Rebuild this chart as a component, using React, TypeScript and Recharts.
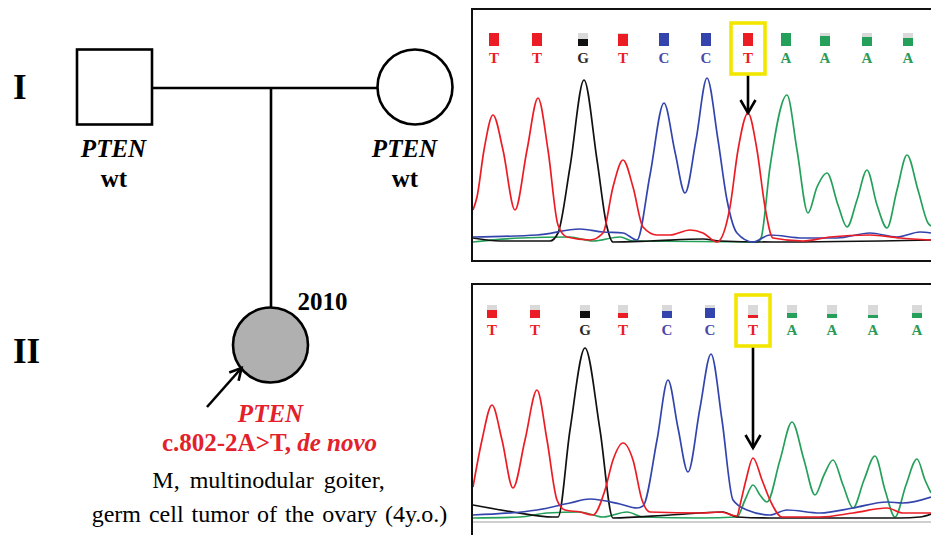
import React from 'react';
import {
  ComposedChart,
  ScatterChart,
  Scatter,
  Line,
  XAxis,
  YAxis,
  ReferenceLine,
} from 'recharts';

// ---------------- data: pedigree ----------------
const generationLabels = ['I', 'II'];
const generationY = [87, 351];

const individualIds = ['I-1', 'I-2', 'II-1'];
const individualX = [114.5, 415, 270.5];
const individualY = [87, 87, 345];
const individualSex = ['M', 'F', 'F'];
const individualAffected = [false, false, true];

const parentGenotype = ['PTEN', 'wt'];
const probandYear = '2010';
const probandGene = 'PTEN';
const probandVariant = 'c.802-2A>T, ';
const probandOrigin = 'de novo';
const probandPhenotype = ['M, multinodular goiter,', 'germ cell tumor of the ovary (4y.o.)'];

// ---------------- data: chromatograms ----------------
const baseCalls = ['T', 'T', 'G', 'T', 'C', 'C', 'T', 'A', 'A', 'A', 'A'];
const mutationIndex = 6;

const topCallPos = [22, 65, 111, 151, 192, 234, 276, 314, 353, 395, 436];
const topQuality = [1, 1, 0.5, 0.9, 1, 1, 1, 1, 0.75, 0.7, 0.6];
const bottomCallPos = [20, 63, 113, 151, 195, 238, 281, 320, 360, 401, 445];
const bottomQuality = [0.65, 0.65, 0.55, 0.35, 0.55, 0.8, 0.2, 0.35, 0.3, 0.2, 0.35];

// arrow (from box bottom to peak) in signal units
const topArrow = [169, 129];
const bottomArrow = [173, 70];

type P = [number, number];
// top panel (wild type, parent) traces: [scan, signal]
const redTop: P[] = [[1, 32], [5, 45], [12, 92], [21, 127], [31, 92], [43, 32], [55, 92], [66, 144], [76, 92], [86, 17], [95, 5], [118, 2], [131, 9], [141, 55], [151, 82], [161, 55], [171, 15], [185, 7], [198, 7], [218, 12], [231, 9], [245, 0], [258, 35], [266, 92], [276, 129], [285, 92], [293, 35], [301, 4], [331, 1], [358, 5], [398, 7], [428, 4], [459, 2]];
const blackTop: P[] = [[1, 4], [28, 1], [78, 1], [86, 9], [98, 75], [112, 162], [125, 82], [135, 15], [141, 0], [178, 1], [231, 3], [248, 1], [300, 0], [459, 2]];
const blueTop: P[] = [[1, 5], [65, 7], [108, 13], [131, 10], [151, 9], [165, 2], [178, 67], [192, 139], [203, 90], [213, 49], [224, 102], [235, 164], [246, 102], [255, 42], [265, 9], [281, 0], [298, 7], [331, 4], [365, 4], [398, 9], [425, 5], [448, 10], [459, 9]];
const greenTop: P[] = [[1, 0], [48, 4], [98, 5], [121, 1], [148, 5], [161, 1], [285, 0], [289, 4], [298, 75], [315, 147], [325, 92], [336, 29], [345, 55], [355, 69], [366, 37], [375, 15], [385, 42], [395, 72], [405, 37], [415, 14], [425, 52], [435, 87], [446, 52], [456, 19], [459, 16]];

// bottom panel (proband) traces
const redBottom: P[] = [[1, 31], [10, 78], [20, 113], [30, 78], [41, 30], [53, 78], [65, 128], [75, 78], [85, 18], [93, 8], [108, 6], [121, 3], [133, 28], [141, 58], [151, 75], [161, 58], [170, 18], [178, 6], [231, 5], [248, 6], [265, 2], [268, 13], [274, 38], [281, 60], [290, 38], [298, 18], [310, 1], [348, 1], [381, 5], [415, 10], [431, 5], [459, 5]];
const blackBottom: P[] = [[1, 13], [41, 6], [81, 1], [86, 1], [98, 88], [113, 170], [128, 88], [141, 0], [198, 3], [251, 6], [265, 1], [298, 0], [428, 0], [448, 1], [459, 4]];
const blueBottom: P[] = [[1, 3], [65, 8], [98, 15], [118, 19], [148, 14], [165, 10], [171, 12], [185, 78], [196, 138], [206, 90], [216, 46], [228, 110], [239, 164], [250, 98], [261, 18], [275, 8], [298, 3], [315, 8], [348, 5], [381, 10], [415, 16], [431, 15], [459, 21]];
const greenBottom: P[] = [[1, 0], [48, 1], [75, 5], [108, 6], [131, 1], [155, 6], [171, 1], [228, 0], [265, 1], [273, 18], [281, 33], [288, 23], [295, 16], [308, 58], [320, 96], [332, 58], [343, 23], [352, 43], [361, 58], [371, 33], [381, 10], [392, 38], [403, 62], [413, 28], [423, 1], [434, 33], [445, 59], [453, 38], [459, 25]];

// ---------------- styles ----------------
const SERIF = '"Liberation Serif", "Times New Roman", serif';
const TRACE = { A: '#25a05a', C: '#3345ad', G: '#111111', T: '#ec1c24' } as Record<string, string>;
const LETTER = { A: '#2c9a58', C: '#4a47a8', G: '#2a2a2a', T: '#ec1c24' } as Record<string, string>;
const RED_TEXT = '#e3212b';
const SYMBOL = 75;

const toRows = (pts: P[]) => pts.map(([t, v]) => ({ t, v }));

// ---------------- pedigree shapes ----------------
const IndividualShape = (props: any) => {
  const { cx, cy, payload } = props;
  const r = SYMBOL / 2;
  const sw = 2.6;
  const symbol =
    payload.sex === 'M' ? (
      <rect x={cx - r} y={cy - r} width={SYMBOL} height={SYMBOL} fill="#fff" stroke="#000" strokeWidth={sw} />
    ) : (
      <circle cx={cx} cy={cy} r={r} fill={payload.affected ? '#b0b0b0' : '#fff'} stroke="#000" strokeWidth={sw} />
    );
  if (!payload.affected) {
    const dx = payload.id === 'I-2' ? -10.5 : -1;
    return (
      <g>
        {symbol}
        <text x={cx + dx} y={cy + 70} textAnchor="middle" fontFamily={SERIF} fontSize={25} fontWeight="bold" fontStyle="italic" fill="#000">
          {parentGenotype[0]}
        </text>
        <text x={cx + dx + 0.5} y={cy + 100} textAnchor="middle" fontFamily={SERIF} fontSize={25} fontWeight="bold" fill="#000">
          {parentGenotype[1]}
        </text>
      </g>
    );
  }
  // proband arrow
  const sx = cx - 63.5, sy = cy + 62, tx = cx - 29, ty = cy + 23;
  const ang = Math.atan2(ty - sy, tx - sx);
  const hl = 13, ha = 0.5;
  const h1x = tx - hl * Math.cos(ang - ha), h1y = ty - hl * Math.sin(ang - ha);
  const h2x = tx - hl * Math.cos(ang + ha), h2y = ty - hl * Math.sin(ang + ha);
  return (
    <g>
      {symbol}
      <text x={cx + 27} y={cy - 35} fontFamily={SERIF} fontSize={25} fontWeight="bold" fill="#000">{probandYear}</text>
      <line x1={sx} y1={sy} x2={tx} y2={ty} stroke="#000" strokeWidth={2.6} />
      <polyline points={`${h1x},${h1y} ${tx},${ty} ${h2x},${h2y}`} fill="none" stroke="#000" strokeWidth={2.6} />
      <text x={cx} y={cy + 77} textAnchor="middle" fontFamily={SERIF} fontSize={25} fontWeight="bold" fontStyle="italic" fill={RED_TEXT}>
        {probandGene}
      </text>
      <text x={cx - 1} y={cy + 106} textAnchor="middle" fontFamily={SERIF} fontSize={25} fontWeight="bold" fill={RED_TEXT}>
        {probandVariant}
        <tspan fontStyle="italic">{probandOrigin}</tspan>
      </text>
      <text x={cx - 2} y={cy + 143} textAnchor="middle" fontFamily={SERIF} fontSize={24} wordSpacing={4} fill="#000">
        {probandPhenotype[0]}
      </text>
      <text x={cx - 1} y={cy + 177} textAnchor="middle" fontFamily={SERIF} fontSize={24} wordSpacing={2} fill="#000">
        {probandPhenotype[1]}
      </text>
    </g>
  );
};

const GenerationShape = (props: any) => {
  const { cx, cy, payload } = props;
  return (
    <text x={cx} y={cy + 12} fontFamily={SERIF} fontSize={35} fontWeight="bold" fill="#000">
      {payload.label}
    </text>
  );
};

// ---------------- chromatogram pieces ----------------
const makeTick = (quality: number[]) => (props: any) => {
  const { x, y, index } = props;
  const base = baseCalls[index];
  const q = quality[index];
  const w = 10, h = 13;
  const colored = Math.max(2, Math.round(h * q));
  return (
    <g>
      {colored < h && <rect x={x - w / 2} y={y - 35} width={w} height={h - colored} fill="#d9d9d9" />}
      <rect x={x - w / 2} y={y - 35 + h - colored} width={w} height={colored} fill={TRACE[base]} />
      <text x={x} y={y - 5} textAnchor="middle" fontFamily={SERIF} fontSize={15} fontWeight="bold" fill={LETTER[base]}>
        {base}
      </text>
      {index === mutationIndex && (
        <rect x={x - 17} y={y - 45} width={34} height={51} fill="none" stroke="#f2e600" strokeWidth={3.6} />
      )}
    </g>
  );
};

const ArrowShape = (props: any) => {
  const { x1, y1, x2, y2 } = props;
  return (
    <g>
      <line x1={x1} y1={y1} x2={x2} y2={y2} stroke="#000" strokeWidth={2.6} />
      <polyline points={`${x2 - 7.5},${y2 - 13} ${x2},${y2} ${x2 + 7.5},${y2 - 13}`} fill="none" stroke="#000" strokeWidth={2.6} />
    </g>
  );
};

type PanelProps = {
  red: P[]; black: P[]; blue: P[]; green: P[];
  callPos: number[]; quality: number[]; arrow: number[];
  height: number; axisHeight: number; domain: [number, number]; greyLine?: boolean;
};

const Chromatogram = ({ red, black, blue, green, callPos, quality, arrow, height, axisHeight, domain, greyLine }: PanelProps) => {
  const mx = callPos[mutationIndex];
  return (
    <ComposedChart width={459} height={height} margin={{ top: 0, right: 0, bottom: 0, left: 0 }}>
      <XAxis
        type="number"
        dataKey="t"
        orientation="top"
        domain={[0, 459]}
        height={axisHeight}
        ticks={callPos}
        interval={0}
        axisLine={false}
        tickLine={false}
        tickSize={0}
        tickMargin={0}
        tick={makeTick(quality)}
        allowDataOverflow
      />
      <YAxis type="number" dataKey="v" domain={domain} hide allowDataOverflow />
      {greyLine && <ReferenceLine y={-4} stroke="#cfcfcf" strokeWidth={2} ifOverflow="visible" />}
      <Line data={toRows(green)} dataKey="v" type="monotone" stroke={TRACE.A} strokeWidth={1.7} dot={false} isAnimationActive={false} />
      <Line data={toRows(black)} dataKey="v" type="monotone" stroke={TRACE.G} strokeWidth={1.7} dot={false} isAnimationActive={false} />
      <Line data={toRows(blue)} dataKey="v" type="monotone" stroke={TRACE.C} strokeWidth={1.7} dot={false} isAnimationActive={false} />
      <Line data={toRows(red)} dataKey="v" type="monotone" stroke={TRACE.T} strokeWidth={1.7} dot={false} isAnimationActive={false} />
      <ReferenceLine
        segment={[{ x: mx, y: arrow[0] }, { x: mx, y: arrow[1] }]}
        shape={ArrowShape}
        ifOverflow="visible"
      />
    </ComposedChart>
  );
};

export default function App() {
  const individuals = individualIds.map((id, i) => ({
    id,
    x: individualX[i],
    y: individualY[i],
    sex: individualSex[i],
    affected: individualAffected[i],
  }));
  const generations = generationLabels.map((label, i) => ({ label, x: 13, y: generationY[i] }));
  const [f, m, c] = individuals;
  const half = SYMBOL / 2;
  const sibY = f.y + 1;
  const dropX = c.x + 0.5;

  return (
    <div style={{ position: 'fixed', left: 0, top: 0, width: 931, height: 535, overflow: 'hidden', background: '#fff' }}>
      <div style={{ position: 'absolute', left: 0, top: 0 }}>
        <ScatterChart width={470} height={535} margin={{ top: 0, right: 0, bottom: 0, left: 0 }}>
          <XAxis type="number" dataKey="x" domain={[0, 470]} hide />
          <YAxis type="number" dataKey="y" domain={[0, 535]} reversed hide />
          <ReferenceLine segment={[{ x: f.x + half, y: sibY }, { x: m.x - half, y: sibY }]} stroke="#000" strokeWidth={2.6} />
          <ReferenceLine segment={[{ x: dropX, y: sibY }, { x: dropX, y: c.y - half }]} stroke="#000" strokeWidth={2.6} />
          <Scatter data={individuals} shape={IndividualShape} isAnimationActive={false} />
          <Scatter data={generations} shape={GenerationShape} isAnimationActive={false} />
        </ScatterChart>
      </div>

      <div style={{ position: 'absolute', left: 472, top: 8 }}>
        <Chromatogram
          red={redTop} black={blackTop} blue={blueTop} green={greenTop}
          callPos={topCallPos} quality={topQuality} arrow={topArrow}
          height={252} axisHeight={60} domain={[-18, 174]}
        />
      </div>
      <div style={{ position: 'absolute', left: 472, top: 284 }}>
        <Chromatogram
          red={redBottom} black={blackBottom} blue={blueBottom} green={greenBottom}
          callPos={bottomCallPos} quality={bottomQuality} arrow={bottomArrow}
          height={251} axisHeight={56} domain={[-17, 178]} greyLine
        />
      </div>

      <div style={{ position: 'absolute', left: 471, top: 8, width: 480, height: 254, border: '2px solid #111', boxSizing: 'border-box' }} />
      <div style={{ position: 'absolute', left: 471, top: 283, width: 480, height: 300, border: '2px solid #111', boxSizing: 'border-box' }} />
    </div>
  );
}
